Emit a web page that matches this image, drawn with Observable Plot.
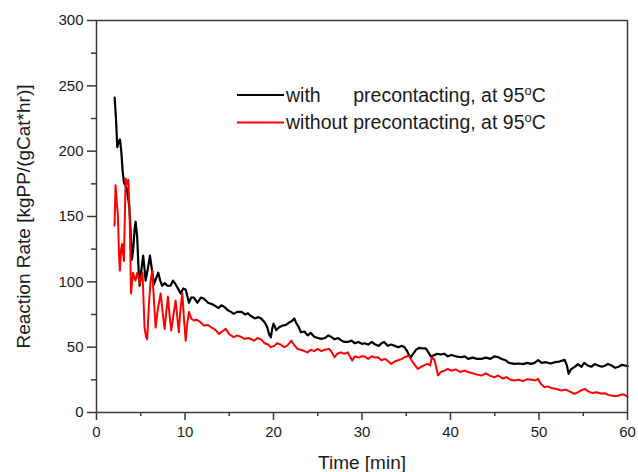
<!DOCTYPE html>
<html>
<head>
<meta charset="utf-8">
<script src="https://cdn.jsdelivr.net/npm/d3@7"></script>
<script src="https://cdn.jsdelivr.net/npm/@observablehq/plot@0.6"></script>
<style>
  html, body { margin: 0; padding: 0; background: #fff; }
</style>
</head>
<body>
<div id="chart"></div>
<script>
// ---- Data ----
const seriesNames = ["with    precontacting, at 95", "without precontacting, at 95"];
const seriesColors = ["#000000", "#ff0000"];

const withT = [2.05,2.2,2.35,2.5,2.65,2.8,2.95,3.1,3.25,3.4,3.55,3.7,3.85,4.0,4.15,4.3,4.42,4.6,4.75,4.87,5.05,5.27,5.4,5.55,5.8,6.04,6.25,6.49,6.7,6.98,7.2,7.42,7.7,8.0,8.36,8.65,8.94,9.2,9.51,9.8,10.08,10.3,10.45,10.7,11.0,11.2,11.4,11.8,12.15,12.6,13.0,13.3,13.8,14.1,14.4,14.9,15.2,15.5,15.9,16.4,16.8,17.1,17.4,17.9,18.3,18.6,19.0,19.3,19.5,19.7,19.85,20.0,20.15,20.3,20.6,21.0,21.4,21.8,22.1,22.34,22.6,22.8,23.1,23.5,23.85,24.2,24.6,25.0,25.4,25.8,26.2,26.5,26.9,27.3,27.7,28.0,28.4,28.8,29.2,29.6,30.0,30.3,30.7,31.1,31.5,31.9,32.2,32.5,32.9,33.3,33.7,34.1,34.5,34.8,35.1,35.3,35.5,35.8,36.1,36.5,36.9,37.2,37.5,37.8,38.2,38.5,38.9,39.3,39.7,40.1,40.6,41.2,41.6,42.0,42.5,43.0,43.5,44.0,44.5,45.0,45.4,45.8,46.2,46.6,47.2,47.7,48.2,48.7,49.1,49.5,49.9,50.3,50.8,51.3,51.8,52.3,52.9,53.15,53.35,53.6,54.0,54.4,54.8,55.1,55.5,55.9,56.3,56.7,57.1,57.5,57.8,58.2,58.6,59.0,59.4,59.7,60.0];
const withRate = [241,225,203,207,209,200,185,176,174,172,165,158,140,117,125,140,146,134,110,97,108,120,112,101,110,120,110,98,102,107,101,97,99,97,97,101,98,95,91,95,94,88,84,88,88,86,84,88,87,84,83,82,80,82,81,78,77,75.5,77,77,75,76,74,72,73,72,69,65,60,57.6,64,68,66,63,65,66.5,67,69,70,72,68,66,61.4,62,59,61,58,57,56.4,57,59,58,56,57,55,54,54,55,53,54,52.5,53,52,54,52,51,53,54,51,52,51,50,51,50,47,44,42.3,45,48,49.5,49,49,46,42.8,44,45,44.4,45,43,44,43,42.3,43,41,42,41,41,42,41,43,42.3,41,40,38,37.2,37.5,37,38,37.2,38,40,38,38.5,37.5,38.5,39,40.3,36,29.6,33,34.7,37,35,38,36,35,37,36,35,36,37.2,36,34.2,35,36.5,36,35.5];

const withoutT = [2.04,2.15,2.3,2.41,2.55,2.64,2.78,2.9,3.0,3.1,3.2,3.3,3.45,3.6,3.75,3.9,4.02,4.14,4.28,4.4,4.6,4.75,4.9,5.05,5.2,5.43,5.6,5.73,5.9,6.1,6.3,6.5,6.68,6.95,7.25,7.5,7.7,7.9,8.07,8.25,8.45,8.7,8.94,9.1,9.3,9.5,9.7,9.9,10.08,10.25,10.45,10.7,11.0,11.3,11.6,11.9,12.15,12.6,13.0,13.3,13.6,13.85,14.2,14.6,15.0,15.5,15.9,16.3,16.7,17.2,17.8,18.2,18.6,19.0,19.4,19.7,20.1,20.4,20.8,21.2,21.5,21.8,22.0,22.3,22.7,23.1,23.5,23.85,24.2,24.6,25.0,25.4,25.8,26.3,26.6,26.9,27.2,27.6,28.0,28.4,28.7,28.9,29.2,29.6,30.0,30.3,30.7,31.1,31.5,31.8,32.2,32.6,33.0,33.3,33.7,34.1,34.5,34.8,35.3,35.6,36.0,36.3,36.7,37.0,37.4,37.7,37.9,38.2,38.4,38.6,38.9,39.3,39.7,40.1,40.6,41.1,41.6,42.0,42.5,43.0,43.5,44.0,44.5,45.0,45.4,45.9,46.3,46.8,47.2,47.7,48.2,48.7,49.2,49.6,49.9,50.2,50.6,51.0,51.5,52.0,52.5,53.0,53.5,54.0,54.4,54.8,55.2,55.6,56.0,56.5,57.0,57.4,57.8,58.2,58.6,59.0,59.4,59.7,60.0];
const withoutRate = [143,174,160,152,120,108.6,125,129,122,116,150,179,175,178,150,91,100,107,103,101,107,103,98.5,103,107,65,58,56,80,100,108.6,85,65,80,91,75,64,78,88.7,75,62.7,75,85.7,75,61.4,80,91,70,55,68,77,72,70.4,71,70,68,66.5,67,65,64,62,60,62,64,60,57.6,59,58,56.4,57,55,57,56,53,52,50,51,53,52,50,51,53,55,52,48.7,48,47,46,48,47,48.7,47,48,48.7,46,42.3,45,46,45,46,42,39.8,43,42,43,42.8,41,43,42,42.3,40,41,39,37.2,39,40,41,42.3,43.5,40,36,33.4,35,36,37.2,36,42.3,40,34,28.3,31,32,33.4,32,33,31,32.1,31,30,29,28.3,30,28,27,28.3,26,27,25,24.5,25,24,25.5,25,24.5,25.7,22,19.4,20,18.5,18,16.8,17.5,16,14.3,15.5,17,18.1,16,15,15.5,14.5,14.8,13.5,13,12.5,13,14,13.5,12];

const xMajorTicks = [0, 10, 20, 30, 40, 50, 60];
const xMinorTicks = [5, 15, 25, 35, 45, 55];
const yMajorTicks = [0, 50, 100, 150, 200, 250, 300];
const yMinorTicks = [25, 75, 125, 175, 225, 275];
const xTitle = "Time [min]";
const yTitle = "Reaction Rate [kgPP/(gCat*hr)]";

// ---- Build tables ----
const withData = withT.map((t, i) => ({t, r: withRate[i]}));
const withoutData = withoutT.map((t, i) => ({t, r: withoutRate[i]}));

const axisColor = "#3a3a3a";
const font = "'Liberation Sans', Arial, Helvetica, sans-serif";

const chart = Plot.plot({
  width: 638,
  height: 472,
  marginLeft: 96,
  marginRight: 11,
  marginTop: 20,
  marginBottom: 60,
  style: {fontFamily: font, background: "#fff", color: "#1a1a1a", overflow: "visible"},
  x: {domain: [0, 60], label: null},
  y: {domain: [0, 300], label: null},
  marks: [
    Plot.axisX({ticks: xMinorTicks, tickSize: 4, tickFormat: () => "", stroke: axisColor, strokeWidth: 1.5, label: null}),
    Plot.axisX({ticks: xMajorTicks, tickSize: 8, tickPadding: 6, fontSize: 15, stroke: axisColor, strokeWidth: 1.5, fill: "#1a1a1a", label: null}),
    Plot.axisY({ticks: yMinorTicks, tickSize: 5, tickFormat: () => "", stroke: axisColor, strokeWidth: 1.5, label: null}),
    Plot.axisY({ticks: yMajorTicks, tickSize: 9, tickPadding: 4, fontSize: 15, stroke: axisColor, strokeWidth: 1.5, fill: "#1a1a1a", label: null}),
    Plot.line(withData, {x: "t", y: "r", stroke: seriesColors[0], strokeWidth: 2.2, strokeLinejoin: "round"}),
    Plot.line(withoutData, {x: "t", y: "r", stroke: seriesColors[1], strokeWidth: 2, strokeLinejoin: "round"}),
    Plot.frame({stroke: axisColor, strokeWidth: 1.5}),
    Plot.text([xTitle], {frameAnchor: "bottom", dy: 50, fontSize: 19, textAnchor: "middle", lineAnchor: "middle", fill: "#1a1a1a"}),
    Plot.text([yTitle], {frameAnchor: "left", dx: -73, rotate: -90, fontSize: 19, textAnchor: "middle", lineAnchor: "middle", fill: "#1a1a1a"})
  ]
});

document.getElementById("chart").appendChild(chart);

// ---- Legend (inside the plot, upper middle) ----
const svg = d3.select(chart);
const lg = svg.append("g")
  .attr("font-family", font)
  .attr("font-size", 19.5)
  .attr("fill", "#1a1a1a")
  .attr("text-anchor", "start")
  .style("text-anchor", "start");
const lx0 = 237, lx1 = 284, tx = 286;
const rows = [95, 122.5];

function addDegree(textSel) {
  textSel.append("tspan").attr("font-size", 13).attr("dy", -7).text("o");
  textSel.append("tspan").attr("dy", 7).text("C");
}

// red row first to measure position of "precontacting"
const redText = lg.append("text").attr("x", tx).attr("y", rows[1]).attr("dy", "0.35em");
const wo = redText.append("tspan").text("without ");
redText.append("tspan").text("precontacting, at 95");
addDegree(redText);
const pX = tx + wo.node().getComputedTextLength();

const blackText = lg.append("text").attr("x", tx).attr("y", rows[0]).attr("dy", "0.35em");
blackText.append("tspan").text("with");
blackText.append("tspan").attr("x", pX).text("precontacting, at 95");
addDegree(blackText);

seriesColors.forEach((c, i) => {
  lg.append("line").attr("x1", lx0).attr("x2", lx1).attr("y1", rows[i]).attr("y2", rows[i])
    .attr("stroke", c).attr("stroke-width", 2);
});
</script>
</body>
</html>
